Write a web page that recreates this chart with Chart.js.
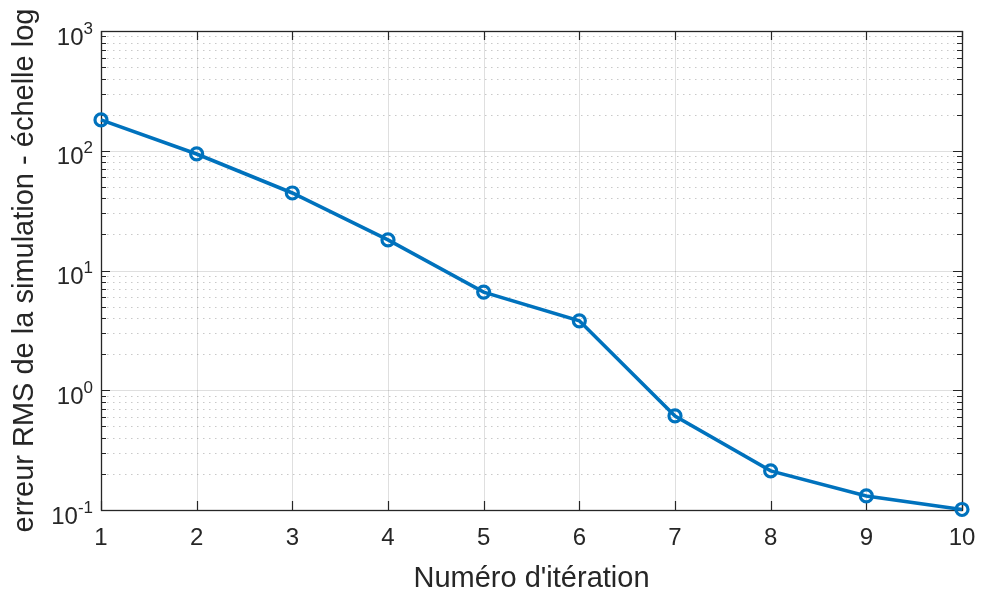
<!DOCTYPE html>
<html>
<head>
<meta charset="utf-8">
<script src="https://cdn.jsdelivr.net/npm/chart.js@4.4.1/dist/chart.umd.min.js"></script>
<style>
  html, body { margin: 0; padding: 0; background: #fff; }
  #wrap { width: 984px; height: 592px; position: relative; }
</style>
</head>
<body>
<div id="wrap"><canvas id="rmsCanv"></canvas></div>
<script>
const iterations = [1, 2, 3, 4, 5, 6, 7, 8, 9, 10];
const rmsError = [181, 94, 44.4, 18, 6.6, 3.8, 0.61, 0.212, 0.131, 0.101];
const yDecades = [0.1, 1, 10, 100, 1000];
const yExponents = ["-1", "0", "1", "2", "3"];
const xTitle = "Numéro d'itération";
const yTitle = "erreur RMS de la simulation - échelle log";

const axisCol = "#262626";
const FONT = "'Liberation Sans', Arial, Helvetica, sans-serif";

// grid, box, ticks and labels drawn the matlab way
const matlabAxes = {
  id: "matlabAxes",
  beforeDatasetsDraw(chart) {
    const { ctx, chartArea: a, scales: { x, y } } = chart;
    ctx.save();
    ctx.lineWidth = 1;

    // minor dotted grid
    ctx.strokeStyle = "rgba(38,38,38,0.25)";
    ctx.setLineDash([1.5, 4.5]);
    yDecades.slice(0, -1).forEach(d => {
      for (let k = 2; k <= 9; k++) {
        const py = Math.round(y.getPixelForValue(d * k)) + 0.5;
        ctx.beginPath(); ctx.moveTo(a.left, py); ctx.lineTo(a.right, py); ctx.stroke();
      }
    });
    ctx.setLineDash([]);

    // major grid
    ctx.strokeStyle = "rgba(38,38,38,0.15)";
    iterations.forEach(v => {
      const px = Math.round(x.getPixelForValue(v)) + 0.5;
      ctx.beginPath(); ctx.moveTo(px, a.top); ctx.lineTo(px, a.bottom); ctx.stroke();
    });
    yDecades.forEach(d => {
      const py = Math.round(y.getPixelForValue(d)) + 0.5;
      ctx.beginPath(); ctx.moveTo(a.left, py); ctx.lineTo(a.right, py); ctx.stroke();
    });

    // ticks (inward)
    ctx.strokeStyle = axisCol;
    ctx.lineWidth = 1.2;
    iterations.forEach(v => {
      const px = Math.round(x.getPixelForValue(v)) + 0.5;
      ctx.beginPath();
      ctx.moveTo(px, a.bottom); ctx.lineTo(px, a.bottom - 9);
      ctx.moveTo(px, a.top); ctx.lineTo(px, a.top + 9);
      ctx.stroke();
    });
    yDecades.forEach((d, i) => {
      const py = Math.round(y.getPixelForValue(d)) + 0.5;
      ctx.beginPath();
      ctx.moveTo(a.left, py); ctx.lineTo(a.left + 9, py);
      ctx.moveTo(a.right, py); ctx.lineTo(a.right - 9, py);
      ctx.stroke();
      if (i < yDecades.length - 1) {
        for (let k = 2; k <= 9; k++) {
          const pm = Math.round(y.getPixelForValue(d * k)) + 0.5;
          ctx.beginPath();
          ctx.moveTo(a.left, pm); ctx.lineTo(a.left + 5, pm);
          ctx.moveTo(a.right, pm); ctx.lineTo(a.right - 5, pm);
          ctx.stroke();
        }
      }
    });

    // box
    ctx.lineWidth = 1.3;
    ctx.strokeRect(Math.round(a.left) + 0.5, Math.round(a.top) + 0.5,
      Math.round(a.right - a.left), Math.round(a.bottom - a.top));

    // y tick labels 10^n
    ctx.fillStyle = axisCol;
    ctx.textBaseline = "alphabetic";
    ctx.textAlign = "left";
    yDecades.forEach((d, i) => {
      const py = y.getPixelForValue(d);
      ctx.font = "24px " + FONT;
      const wBase = ctx.measureText("10").width;
      ctx.font = "17px " + FONT;
      const wExp = ctx.measureText(yExponents[i]).width;
      const x0 = a.left - 8 - wBase - wExp;
      ctx.font = "24px " + FONT;
      ctx.fillText("10", x0, py + 13.5);
      ctx.font = "17px " + FONT;
      ctx.fillText(yExponents[i], x0 + wBase, py + 2.5);
    });

    // axis titles
    ctx.font = "29px " + FONT;
    ctx.textAlign = "center";
    ctx.fillText(xTitle, (a.left + a.right) / 2, 587);
    ctx.save();
    ctx.translate(33, (a.top + a.bottom) / 2);
    ctx.rotate(-Math.PI / 2);
    ctx.fillText(yTitle, 0, 0);
    ctx.restore();

    ctx.restore();
  }
};

new Chart(document.getElementById("rmsCanv"), {
  type: "line",
  data: {
    datasets: [{
      data: iterations.map((v, i) => ({ x: v, y: rmsError[i] })),
      borderColor: "#0072BD",
      borderWidth: 3.6,
      pointRadius: 6,
      pointBorderWidth: 3.2,
      pointBackgroundColor: "transparent",
      pointBorderColor: "#0072BD",
      backgroundColor: "transparent",
      tension: 0,
      clip: false
    }]
  },
  options: {
    responsive: true,
    maintainAspectRatio: false,
    animation: false,
    events: [],
    layout: { padding: { top: 31, right: 22, left: 0, bottom: 0 } },
    plugins: { legend: { display: false }, tooltip: { enabled: false } },
    scales: {
      x: {
        type: "linear",
        min: 1, max: 10,
        ticks: {
          stepSize: 1,
          color: axisCol,
          padding: 7,
          font: { size: 24, family: FONT }
        },
        grid: { display: false, drawTicks: true, tickLength: 7 },
        border: { display: false },
        afterFit(s) { s.height = 82; }
      },
      y: {
        type: "logarithmic",
        min: 0.1, max: 1000,
        ticks: { display: false },
        grid: { display: false, drawTicks: false },
        border: { display: false },
        afterFit(s) { s.width = 101; }
      }
    }
  },
  plugins: [matlabAxes]
});
</script>
</body>
</html>
